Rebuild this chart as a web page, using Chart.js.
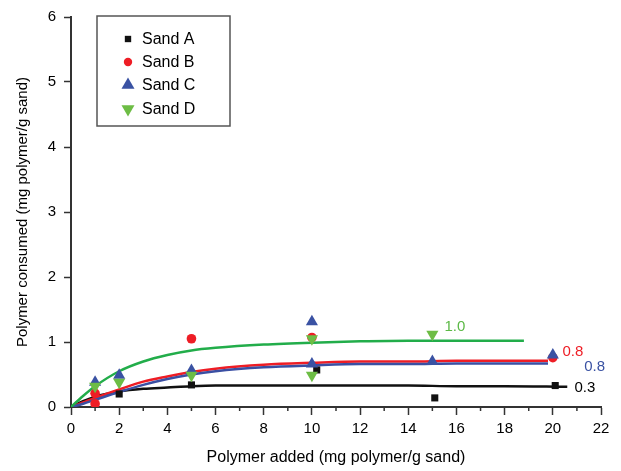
<html>
<head>
    <script src="https://cdn.jsdelivr.net/npm/chart.js@4.4.1/dist/chart.umd.min.js"></script>
    <style>
        body { margin: 0; background: #fff; }
    </style>
</head>
<body>
    <canvas id="sandChart" width="621" height="471"></canvas>
<script>
    // measured points
    var sandAx = [2, 5, 10.2, 15.1, 20.1];
    var sandAy = [0.2, 0.34, 0.57, 0.14, 0.33];
    var sandBx = [1, 1, 5, 10, 20];
    var sandBy = [0.05, 0.21, 1.05, 1.07, 0.76];
    var sandCx = [1, 2, 5, 10, 10, 15, 20];
    var sandCy = [0.38, 0.49, 0.56, 1.31, 0.66, 0.70, 0.80];
    var sandDx = [1, 2, 5, 10, 10, 15];
    var sandDy = [0.32, 0.38, 0.49, 0.49, 1.05, 1.12];

    // fitted curves
    var fitAx = [0, 0.5, 1, 2, 3, 4, 5, 6, 8, 10, 12, 14, 16, 18, 20.6];
    var fitAy = [0, 0.09, 0.16, 0.24, 0.28, 0.30, 0.32, 0.33, 0.33, 0.33, 0.33, 0.33, 0.32, 0.32, 0.31];
    var fitBx = [0, 0.5, 1, 2, 3, 4, 5, 6, 8, 10, 12, 14, 16, 18, 19.8];
    var fitBy = [0, 0.07, 0.14, 0.27, 0.39, 0.47, 0.54, 0.59, 0.65, 0.68, 0.70, 0.70, 0.71, 0.71, 0.71];
    var fitCx = [0, 0.5, 1, 2, 3, 4, 5, 6, 8, 10, 12, 14, 16, 18, 19.8];
    var fitCy = [0, 0.05, 0.11, 0.23, 0.34, 0.43, 0.50, 0.55, 0.61, 0.64, 0.66, 0.66, 0.67, 0.67, 0.67];
    var fitDx = [0, 0.5, 1, 2, 3, 4, 5, 6, 8, 10, 12, 14, 16, 18.8];
    var fitDy = [0, 0.17, 0.32, 0.55, 0.70, 0.80, 0.87, 0.91, 0.96, 0.99, 1.01, 1.02, 1.02, 1.02];

    var seriesNames = ['Sand A', 'Sand B', 'Sand C', 'Sand D'];
    var curveLabels = ['0.3', '0.8', '0.8', '1.0'];
    var curveLabelX = [20.9, 20.4, 21.3, 15.5];
    var curveLabelY = [0.30, 0.85, 0.62, 1.23];

    var FONT = "'Liberation Sans', Arial, sans-serif";
    var markerColors = ['#111111', '#ee1d25', '#3a52a3', '#6dbd45'];
    var lineColors = ['#111111', '#ee1d25', '#3a4fa3', '#22ad4a'];
    var labelColors = ['#000000', '#ee1d25', '#3a52a3', '#5cb946'];
    var markerStyles = ['rect', 'circle', 'triangle', 'triangle'];
    var markerRot = [0, 0, 0, 180];
    var markerRadius = [5, 4.8, 7, 7];

    function pts(xs, ys) {
        return xs.map(function(x, i) { return {x: x, y: ys[i]}; });
    }

    var pointSets = [pts(sandAx, sandAy), pts(sandBx, sandBy), pts(sandCx, sandCy), pts(sandDx, sandDy)];
    var fitSets = [pts(fitAx, fitAy), pts(fitBx, fitBy), pts(fitCx, fitCy), pts(fitDx, fitDy)];

    var datasets = [];
    for (var i = 0; i < 4; i++) {
        datasets.push({
            label: seriesNames[i] + ' fit',
            data: fitSets[i],
            showLine: true,
            borderColor: lineColors[i],
            borderWidth: 2.5,
            pointRadius: 0,
            cubicInterpolationMode: 'monotone',
            fill: false,
            order: 10 - i
        });
    }
    for (var j = 0; j < 4; j++) {
        datasets.push({
            label: seriesNames[j],
            data: pointSets[j],
            showLine: false,
            pointStyle: markerStyles[j],
            rotation: markerRot[j],
            pointRadius: markerRadius[j],
            backgroundColor: markerColors[j],
            borderColor: markerColors[j],
            borderWidth: 0,
            order: 4 - j
        });
    }

    var minorTicks = {
        id: 'minorTicks',
        afterDraw: function(chart) {
            var ctx = chart.ctx, xs = chart.scales.x, b = chart.chartArea.bottom;
            ctx.save();
            ctx.strokeStyle = '#333';
            ctx.lineWidth = 1.5;
            for (var v = 1; v < 22; v += 2) {
                var px = xs.getPixelForValue(v);
                ctx.beginPath();
                ctx.moveTo(px, b);
                ctx.lineTo(px, b + 4);
                ctx.stroke();
            }
            ctx.restore();
        }
    };

    var boxLegend = {
        id: 'boxLegend',
        afterDraw: function(chart) {
            var ctx = chart.ctx;
            ctx.save();
            ctx.strokeStyle = '#555';
            ctx.lineWidth = 1.5;
            ctx.strokeRect(97, 16, 133, 110);
            var rowsY = [39, 62, 85, 109];
            var legR = [4.5, 4.2, 7.5, 7.5];
            for (var k = 0; k < 4; k++) {
                ctx.fillStyle = markerColors[k];
                ctx.strokeStyle = markerColors[k];
                Chart.helpers.drawPoint(ctx, {
                    pointStyle: markerStyles[k],
                    rotation: markerRot[k],
                    radius: legR[k],
                    borderWidth: 0
                }, 128, rowsY[k]);
                ctx.fillStyle = '#000';
                ctx.font = '16px ' + FONT;
                ctx.textBaseline = 'middle';
                ctx.textAlign = 'left';
                ctx.fillText(seriesNames[k], 142, rowsY[k] + 1);
            }
            // end-of-curve values
            var xs = chart.scales.x, ys = chart.scales.y;
            ctx.font = '15px ' + FONT;
            for (var m = 0; m < 4; m++) {
                ctx.fillStyle = labelColors[m];
                ctx.fillText(curveLabels[m], xs.getPixelForValue(curveLabelX[m]), ys.getPixelForValue(curveLabelY[m]));
            }
            ctx.restore();
        }
    };

    new Chart(document.getElementById('sandChart'), {
        type: 'scatter',
        data: { datasets: datasets },
        options: {
            responsive: false,
            animation: false,
            layout: { padding: { top: 15, right: 20, left: 0, bottom: 0 } },
            plugins: { legend: { display: false }, tooltip: { enabled: false } },
            scales: {
                x: {
                    type: 'linear',
                    min: 0, max: 22,
                    afterFit: function(s) { s.height = 64; },
                    ticks: { stepSize: 2, color: '#000', font: { family: FONT, size: 15 }, padding: 5, maxRotation: 0 },
                    grid: { drawOnChartArea: false, tickLength: 8, tickColor: '#333', tickWidth: 1.5 },
                    border: { color: '#333', width: 2 },
                    title: { display: true, text: 'Polymer added (mg polymer/g sand)', color: '#000',
                        font: { family: FONT, size: 16 }, padding: { top: 0, bottom: 4 } }
                },
                y: {
                    min: 0, max: 6,
                    afterFit: function(s) { s.width = 71; },
                    ticks: { stepSize: 1, color: '#000', font: { family: FONT, size: 15 }, padding: 8 },
                    grid: { drawOnChartArea: false, tickLength: 7, tickColor: '#333', tickWidth: 1.5 },
                    border: { color: '#333', width: 2 },
                    title: { display: true, text: 'Polymer consumed (mg polymer/g sand)', color: '#000',
                        font: { family: FONT, size: 15 }, padding: { top: 14, bottom: 0 } }
                }
            }
        },
        plugins: [minorTicks, boxLegend]
    });
</script>
</body>
</html>
